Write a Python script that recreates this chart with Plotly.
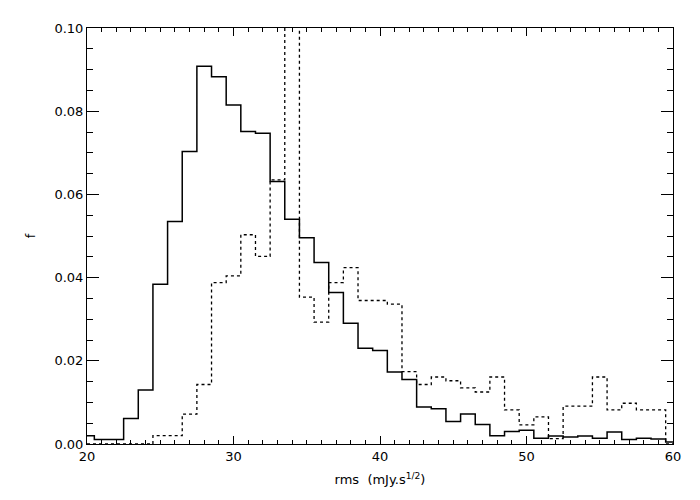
import plotly.graph_objects as go

# bin centres (width 1) of rms in mJy.s^1/2
rms_bins = list(range(20, 61))

# fraction per bin, solid histogram
f_solid = [
    0.0020, 0.0011, 0.0011, 0.0061, 0.0130, 0.0384, 0.0535, 0.0703, 0.0908, 0.0883,
    0.0815, 0.0751, 0.0747, 0.0631, 0.0540, 0.0496, 0.0436, 0.0364, 0.0290, 0.0230,
    0.0225, 0.0173, 0.0155, 0.0089, 0.0085, 0.0054, 0.0072, 0.0047, 0.0020, 0.0030,
    0.0033, 0.0014, 0.0019, 0.0017, 0.0019, 0.0014, 0.0029, 0.0011, 0.0014, 0.0012,
    0.0005,
]

# fraction per bin, dotted histogram (bin 34 runs off the top)
f_dotted = [
    0.0, 0.0, 0.0, 0.0, 0.0, 0.0020, 0.0020, 0.0072, 0.0143, 0.0388,
    0.0404, 0.0503, 0.0451, 0.0635, 0.1300, 0.0353, 0.0293, 0.0388, 0.0424, 0.0345,
    0.0345, 0.0336, 0.0174, 0.0143, 0.0161, 0.0152, 0.0135, 0.0125, 0.0161, 0.0082,
    0.0046, 0.0065, 0.0013, 0.0091, 0.0091, 0.0161, 0.0082, 0.0098, 0.0082, 0.0082,
    0.0,
]

x_range = [20, 60]
y_range = [0, 0.1]

fig = go.Figure()
fig.add_trace(go.Scatter(
    x=rms_bins, y=f_dotted, mode='lines', line_shape='hvh',
    line=dict(color='black', width=1.3, dash='3px,3px'),
))
fig.add_trace(go.Scatter(
    x=rms_bins, y=f_solid, mode='lines', line_shape='hvh',
    line=dict(color='black', width=1.5),
))
# empty trace so the top/right tick axes get drawn
fig.add_trace(go.Scatter(x=[None], y=[None], xaxis='x2', yaxis='y2',
                         mode='lines', hoverinfo='skip'))

axis_font = dict(family='DejaVu Sans', size=13, color='black')
xticks = dict(dtick=10, tick0=20, ticks='inside', ticklen=8, tickcolor='black',
              minor=dict(ticks='inside', dtick=1, ticklen=4, tickcolor='black'))
yticks = dict(dtick=0.02, tick0=0, ticks='inside', ticklen=12, tickcolor='black',
              minor=dict(ticks='inside', dtick=0.005, ticklen=6, tickcolor='black'))
common = dict(showline=True, linecolor='black', linewidth=1,
              showgrid=False, zeroline=False)

fig.update_layout(
    width=700, height=500,
    # page body adds an 8px offset, so margins are shifted to compensate
    margin=dict(l=79, r=35, t=20, b=64),
    paper_bgcolor='white', plot_bgcolor='white',
    showlegend=False,
    xaxis=dict(range=x_range, tickfont=axis_font,
               title=dict(text='rms  (mJy.s<sup>1/2</sup>)', font=axis_font, standoff=12),
               **xticks, **common),
    yaxis=dict(range=y_range, tickformat='.2f', tickfont=axis_font,
               title=dict(text='f', font=axis_font, standoff=15),
               **yticks, **common),
    xaxis2=dict(range=x_range, overlaying='x', side='top', anchor='y2',
                showticklabels=False, **xticks, **common),
    yaxis2=dict(range=y_range, overlaying='y', side='right', anchor='x2',
                showticklabels=False, **yticks, **common),
)

fig.write_html("out.html")
